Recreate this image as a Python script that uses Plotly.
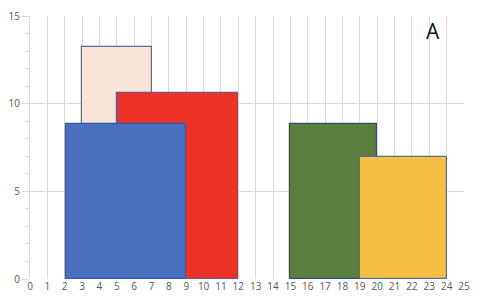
import plotly.graph_objects as go

names = ["peach", "red", "blue", "green", "yellow"]
left = [3, 5, 2.05, 15, 19]
right = [7, 12, 9, 20, 24]
height = [13.25, 10.6, 8.85, 8.85, 6.95]
fills = ["#F8E5D8", "#EC3224", "#4A71BE", "#5A7F3C", "#F5BF43"]
borders = ["#5A6A9A", "#7A4E8A", "#2E5AA8", "#2E4E7A", "#5A6A9A"]

x_ticks = list(range(0, 26))
y_ticks = [0, 5, 10, 15]

fig = go.Figure()
for n, l, r, h, f, b in zip(names, left, right, height, fills, borders):
    fig.add_trace(go.Bar(
        x=[l], y=[h], width=[r - l], offset=0, base=0, name=n,
        marker=dict(color=f, line=dict(color=b, width=1.2)),
        showlegend=False, hoverinfo="skip",
    ))

fig.add_trace(go.Scatter(
    x=[23.2], y=[14.0], mode="text", text=["A"],
    textfont=dict(size=21, color="#111111", family="Open Sans"),
    showlegend=False, hoverinfo="skip",
))

fig.update_layout(
    width=480, height=306,
    margin=dict(l=30, r=16, t=15.5, b=26.5, autoexpand=False),
    paper_bgcolor="white", plot_bgcolor="white",
    barmode="overlay", bargap=0,
    font=dict(family="Open Sans", size=10, color="#595959"),
)
fig.update_xaxes(
    range=[0, 25], tickvals=x_ticks, ticktext=[str(v) for v in x_ticks],
    showgrid=True, gridcolor="#D9D9D9", gridwidth=1, automargin=False,
    zeroline=False, showline=False, ticks="", tickfont=dict(size=10, color="#595959"),
)
fig.update_yaxes(
    range=[0, 15], tickvals=y_ticks, ticktext=[str(v) for v in y_ticks],
    showgrid=True, gridcolor="#D9D9D9", gridwidth=1, automargin=False,
    zeroline=False, showline=True, linecolor="#D9D9D9",
    ticks="outside", ticklen=7, tickcolor="#D9D9D9",
    minor=dict(dtick=1, ticks="outside", ticklen=4, tickcolor="#D9D9D9", showgrid=False),
    tickfont=dict(size=10, color="#595959"),
)

fig.write_html("out.html")
